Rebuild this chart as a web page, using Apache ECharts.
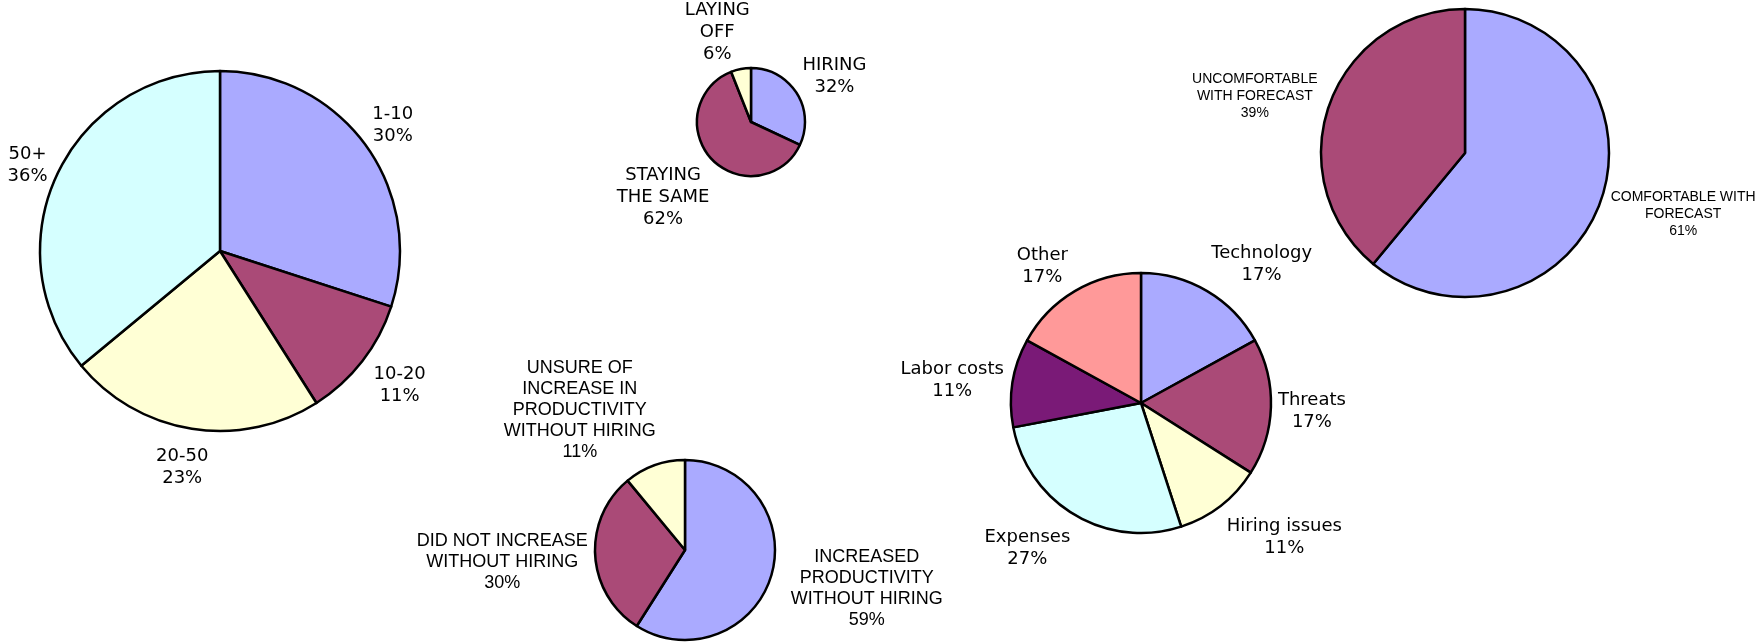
<!DOCTYPE html>
<html>
<head>
<meta charset="utf-8">
<title>Survey pies</title>
<script src="https://cdn.jsdelivr.net/npm/echarts@6/dist/echarts.min.js"></script>
<style>
html, body { margin: 0; padding: 0; background: #fff; }
#main { width: 1761px; height: 642px; }
</style>
</head>
<body>
<div id="main"></div>
<script>
var myChart = echarts.init(document.getElementById('main'));

// company size
var sizeNames = ['1-10', '10-20', '20-50', '50+'];
var sizeValues = [30, 11, 23, 36];

// hiring plans
var planNames = ['HIRING', 'STAYING\nTHE SAME', 'LAYING\nOFF'];
var planValues = [32, 62, 6];

// productivity
var prodNames = ['INCREASED\nPRODUCTIVITY\nWITHOUT HIRING', 'DID NOT INCREASE\nWITHOUT HIRING',
    'UNSURE OF\nINCREASE IN\nPRODUCTIVITY\nWITHOUT HIRING'];
var prodValues = [59, 30, 11];

// concerns
var concernNames = ['Technology', 'Threats', 'Hiring issues', 'Expenses', 'Labor costs', 'Other'];
var concernValues = [17, 17, 11, 27, 11, 17];

// forecast
var forecastNames = ['COMFORTABLE WITH\nFORECAST', 'UNCOMFORTABLE\nWITH FORECAST'];
var forecastValues = [61, 39];

var BLUE = '#aaaaff', MAROON = '#aa4a77', YELLOW = '#ffffd5', CYAN = '#d5ffff',
    PURPLE = '#7a1a77', SALMON = '#ff9999';

var VERDANA = 'Verdana, "DejaVu Sans", sans-serif';
var ARIAL = 'Arial, "Liberation Sans", sans-serif';

function makePie(names, values, colors, cfg) {
    var total = 0;
    for (var i = 0; i < values.length; i++) total += values[i];
    var mids = [];            // middle angle of each slice, clockwise from 12 o'clock
    var acc = 0;
    for (var j = 0; j < values.length; j++) {
        mids.push((acc + values[j] / 2) / total * Math.PI * 2);
        acc += values[j];
    }
    return {
        type: 'pie',
        center: cfg.center,
        radius: cfg.radius,
        startAngle: 90,
        clockwise: true,
        avoidLabelOverlap: false,
        silent: true,
        data: names.map(function (n, k) {
            return {name: n, value: values[k], itemStyle: {color: colors[k]}};
        }),
        itemStyle: {borderColor: '#000', borderWidth: 2.5},
        label: {
            show: true,
            position: 'inside',
            formatter: function (p) { return p.name + '\n' + p.value + '%'; },
            color: '#000',
            fontFamily: cfg.font,
            fontSize: cfg.fontSize,
            lineHeight: cfg.lineHeight,
            align: 'center'
        },
        labelLine: {show: false},
        emphasis: {disabled: true},
        labelLayout: function (p) {
            var a = mids[p.dataIndex];
            var n = cfg.nudge[p.dataIndex];
            return {
                x: cfg.center[0] + Math.sin(a) * cfg.labelDist + n[0],
                y: cfg.center[1] - Math.cos(a) * cfg.labelDist + n[1] + 2,
                align: 'center',
                verticalAlign: 'middle'
            };
        }
    };
}

option = {
    backgroundColor: '#fff',
    animation: false,
    series: [
        makePie(sizeNames, sizeValues, [BLUE, MAROON, YELLOW, CYAN], {
            center: [220, 251], radius: 180, labelDist: 216,
            font: VERDANA, fontSize: 18, lineHeight: 22,
            nudge: [[-2, -1], [9, 0], [-4, 1], [3, 4]]
        }),
        makePie(planNames, planValues, [BLUE, MAROON, YELLOW], {
            center: [751, 122], radius: 54, labelDist: 100,
            font: VERDANA, fontSize: 18, lineHeight: 22,
            nudge: [[-1, 6], [-15, 5], [-15, 7]]
        }),
        makePie(prodNames, prodValues, [BLUE, MAROON, YELLOW], {
            center: [685, 550], radius: 90, labelDist: 160,
            font: ARIAL, fontSize: 18, lineHeight: 21,
            nudge: [[28, -8], [-23, 0], [-51, 9]]
        }),
        makePie(concernNames, concernValues, [BLUE, MAROON, YELLOW, CYAN, PURPLE, SALMON], {
            center: [1141, 403], radius: 130, labelDist: 180,
            font: VERDANA, fontSize: 18, lineHeight: 22,
            nudge: [[29, 14], [-9, 1], [33, -10], [-22, -12], [-11, 3], [-7, 16]]
        }),
        makePie(forecastNames, forecastValues, [BLUE, MAROON], {
            center: [1465, 153], radius: 144, labelDist: 200,
            font: ARIAL, fontSize: 14, lineHeight: 17,
            nudge: [[30, -9], [-22, 9]]
        })
    ]
};

myChart.setOption(option);
</script>
</body>
</html>
